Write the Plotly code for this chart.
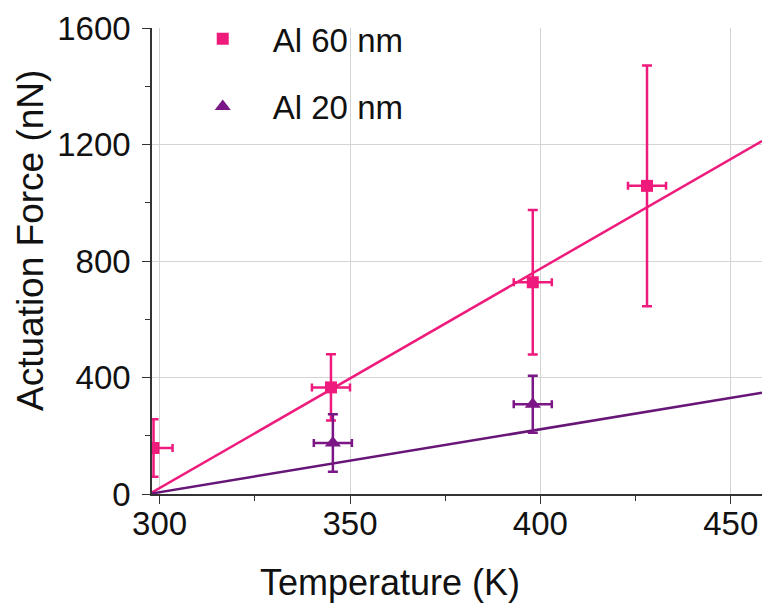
import plotly.graph_objects as go

# ---- data ----
temp_60 = [298.4, 345.0, 398.0, 428.0]
force_60 = [158, 366, 727, 1058]
force_err_60 = [99, 114, 248, 413]
temp_err_60 = [5, 5, 5, 5]

temp_20 = [345.5, 398.0]
force_20 = [175, 308]
force_err_20 = [99, 98]
temp_err_20 = [5, 5]

fit_temp = [298.0, 458.2]
fit_60 = [5, 1212]
fit_20 = [2, 348]

x_ticks = [300, 350, 400, 450]
y_ticks = [0, 400, 800, 1200, 1600]

PINK = "#EE1A7C"
PURPLE = "#7A1685"
PURPLE_LINE = "#671576"
FONT = "Liberation Sans, Arial, sans-serif"
TXT = "#111111"

fig = go.Figure()

fig.add_trace(go.Scatter(x=fit_temp, y=fit_60, mode="lines",
                         line=dict(color=PINK, width=2.5), showlegend=False,
                         hoverinfo="skip"))
fig.add_trace(go.Scatter(x=fit_temp, y=fit_20, mode="lines",
                         line=dict(color=PURPLE_LINE, width=2.5), showlegend=False,
                         hoverinfo="skip"))

fig.add_trace(go.Scatter(
    x=temp_60, y=force_60, mode="markers", name="Al 60 nm", legendgroup="a",
    marker=dict(symbol="square", size=12, color=PINK),
    error_y=dict(type="data", array=force_err_60, color=PINK, thickness=2.5, width=5),
    error_x=dict(type="data", array=temp_err_60, color=PINK, thickness=2.5, width=4),
))
fig.add_trace(go.Scatter(
    x=temp_20, y=force_20, mode="markers", name="Al 20 nm", legendgroup="b",
    marker=dict(symbol="triangle-up", size=14, color=PURPLE),
    error_y=dict(type="data", array=force_err_20, color=PURPLE, thickness=2.5, width=5),
    error_x=dict(type="data", array=temp_err_20, color=PURPLE, thickness=2.5, width=4),
))

fig.update_layout(
    width=762, height=604,
    margin=dict(l=152, r=0, t=28, b=110),
    paper_bgcolor="white", plot_bgcolor="white",
    font=dict(family=FONT, color=TXT),
    showlegend=True,
    legend=dict(x=0.034, y=1.037, xanchor="left", yanchor="top",
                font=dict(size=33, family=FONT, color=TXT),
                traceorder="grouped", tracegroupgap=22,
                bgcolor="rgba(0,0,0,0)", itemwidth=90),
    annotations=[
        dict(text="Temperature (K)", xref="paper", yref="paper",
             x=(390 - 152) / 610, y=-(605 - 494) / 466, xanchor="center", yanchor="bottom",
             showarrow=False, font=dict(size=36, family=FONT, color=TXT)),
        dict(text="Actuation Force (nN)", xref="paper", yref="paper",
             x=-(152 - 30) / 610, y=(494 - 241) / 466, xanchor="center", yanchor="middle",
             textangle=-90, showarrow=False, font=dict(size=37, family=FONT, color=TXT)),
    ],
)

fig.update_xaxes(
    range=[298, 458.2], tickvals=x_ticks, ticktext=[str(v) for v in x_ticks],
    automargin=False,
    showgrid=True, gridcolor="#D4D4D4", gridwidth=1,
    showline=True, linecolor="#333333", linewidth=1.5,
    ticks="outside", ticklen=8, tickwidth=1.2, tickcolor="#333333",
    minor=dict(dtick=25, tick0=300, ticks="outside", ticklen=5, tickcolor="#333333", showgrid=False),
    tickfont=dict(size=33, family=FONT, color=TXT), ticklabelstandoff=-8,
    zeroline=False,
)
fig.update_yaxes(
    range=[0, 1600], tickvals=y_ticks, ticktext=[str(v) for v in y_ticks],
    automargin=False,
    showgrid=True, gridcolor="#D4D4D4", gridwidth=1,
    showline=True, linecolor="#333333", linewidth=1.5,
    ticks="outside", ticklen=8, tickwidth=1.2, tickcolor="#333333",
    minor=dict(dtick=200, tick0=0, ticks="outside", ticklen=5, tickcolor="#333333", showgrid=False),
    tickfont=dict(size=33, family=FONT, color=TXT), ticklabelstandoff=5,
    zeroline=False,
)

fig.write_html("out.html", config={"displayModeBar": False},
               post_script="document.body.style.margin='0';document.body.style.padding='0';")
